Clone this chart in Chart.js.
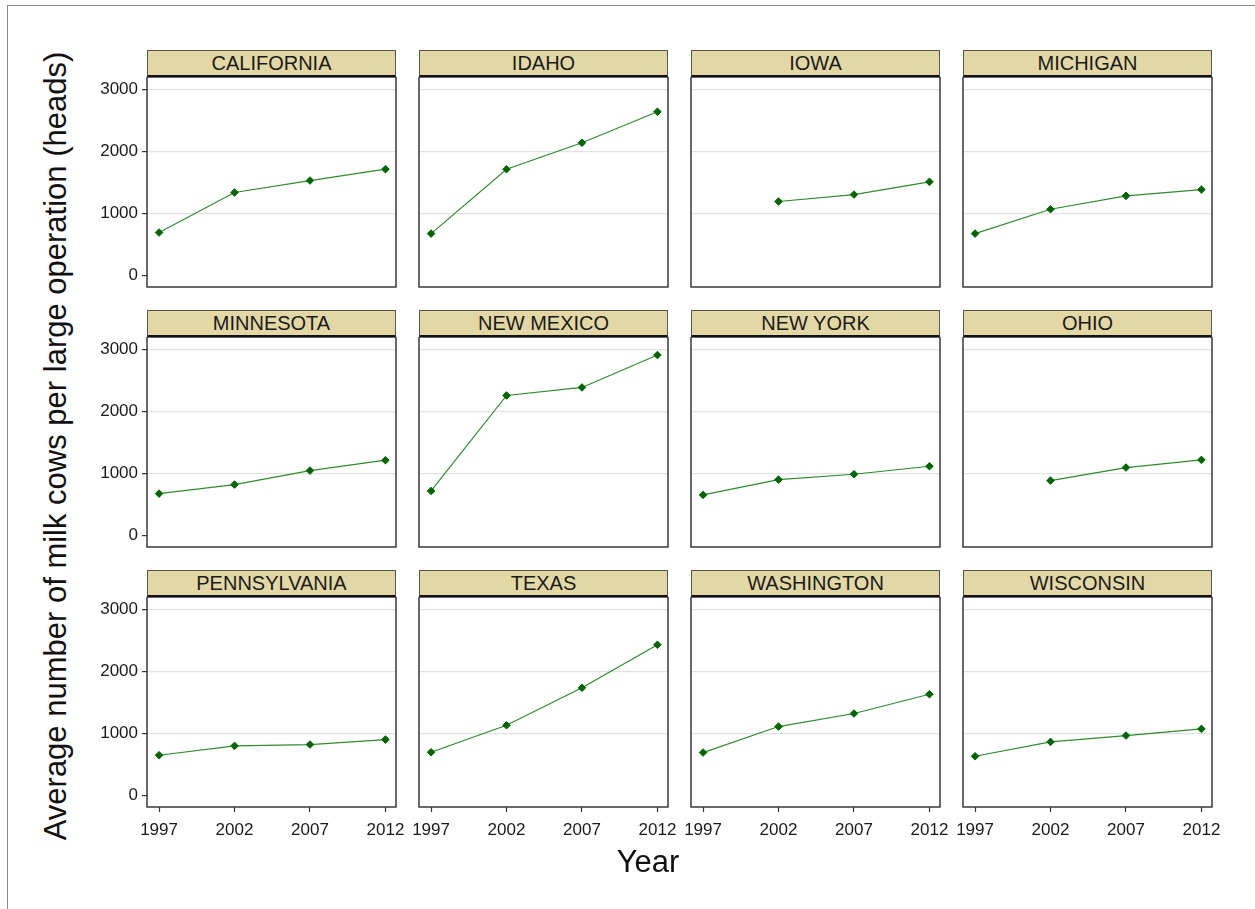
<!DOCTYPE html>
<html>
<head>
<meta charset="utf-8">
<script src="https://cdn.jsdelivr.net/npm/chart.js@4/dist/chart.umd.min.js"></script>
<style>
  html, body { margin:0; padding:0; background:#fff; }
  body { width:1255px; height:909px; position:relative; overflow:hidden; font-family:"Liberation Sans", Arial, sans-serif; }
  .frame { position:absolute; left:7px; top:5px; width:1260px; height:920px; border-left:1px solid #8a8a8a; border-top:1px solid #8a8a8a; }
  canvas { position:absolute; }
  .strip { position:absolute; box-sizing:border-box; background:#E3D8A5; border:1px solid #555; border-bottom:2px solid #111;
           text-align:center; font-size:20px; color:#1a1a1a; line-height:25px; }
  .xtitle { position:absolute; font-size:31px; color:#111; line-height:31px; white-space:nowrap; transform:translateX(-50%); }
  .ytitle { position:absolute; font-size:31px; color:#111; line-height:31px; white-space:nowrap; transform:translate(-50%,-50%) rotate(-90deg); }
</style>
</head>
<body>
<div class="frame"></div>
<div id="root"></div>
<div class="xtitle" style="left:648px; top:846px;">Year</div>
<div class="ytitle" style="left:55px; top:446px;">Average number of milk cows per large operation (heads)</div>
<script>
// ---- data ----
const years = [1997, 2002, 2007, 2012];
const xTicks = [1997, 2002, 2007, 2012];
const yTicks = [0, 1000, 2000, 3000];
const states = ["CALIFORNIA","IDAHO","IOWA","MICHIGAN","MINNESOTA","NEW MEXICO","NEW YORK","OHIO","PENNSYLVANIA","TEXAS","WASHINGTON","WISCONSIN"];
const california   = [694, 1339, 1532, 1715];
const idaho        = [677, 1715, 2140, 2640];
const iowa         = [null, 1194, 1306, 1511];
const michigan     = [677, 1070, 1285, 1387];
const minnesota    = [677, 823, 1048, 1215];
const newMexico    = [720, 2258, 2387, 2909];
const newYork      = [656, 903, 989, 1118];
const ohio         = [null, 887, 1097, 1220];
const pennsylvania = [651, 801, 823, 903];
const texas        = [699, 1134, 1737, 2430];
const washington   = [694, 1113, 1323, 1634];
const wisconsin    = [634, 866, 968, 1075];
const seriesList = [california, idaho, iowa, michigan, minnesota, newMexico, newYork, ohio, pennsylvania, texas, washington, wisconsin];

// ---- layout ----
const colLeft = [147, 419, 691, 963];
const rowTop = [77, 337, 597];
const plotW = 249, plotH = 210, stripH = 27;
const yAxisW = 60, rightPad = 25, xAxisH = 40;
const FONT = "'Liberation Sans', Arial, sans-serif";

const borderPlugin = {
  id: 'panelBorder',
  afterDraw(chart) {
    const a = chart.chartArea, c = chart.ctx;
    c.save();
    c.strokeStyle = '#3a3a3a';
    c.lineWidth = 1.5;
    c.strokeRect(a.left, a.top, a.right - a.left, a.bottom - a.top);
    c.restore();
  }
};

const root = document.getElementById('root');
states.forEach((name, i) => {
  const r = Math.floor(i / 4), col = i % 4;
  const isLeft = col === 0, isBottom = r === 2;
  const px = colLeft[col], py = rowTop[r];

  const strip = document.createElement('div');
  strip.className = 'strip';
  strip.style.left = px + 'px';
  strip.style.top = (py - stripH) + 'px';
  strip.style.width = plotW + 'px';
  strip.style.height = stripH + 'px';
  strip.textContent = name;
  root.appendChild(strip);

  const cv = document.createElement('canvas');
  cv.width = yAxisW + plotW + rightPad;
  cv.height = plotH + xAxisH;
  cv.style.left = (px - yAxisW) + 'px';
  cv.style.top = py + 'px';
  cv.style.width = cv.width + 'px';
  cv.style.height = cv.height + 'px';
  root.appendChild(cv);

  const vals = seriesList[i];
  const pts = [];
  years.forEach((yr, k) => { if (vals[k] !== null) pts.push({ x: yr, y: vals[k] }); });

  new Chart(cv, {
    type: 'line',
    data: { datasets: [{
      data: pts,
      borderColor: '#2f8a2f',
      borderWidth: 1.2,
      pointStyle: 'rectRot',
      pointRadius: 3.8,
      pointBackgroundColor: '#006400',
      pointBorderColor: '#006400',
      pointBorderWidth: 1,
      tension: 0,
      fill: false,
      clip: 8
    }]},
    options: {
      responsive: false,
      animation: false,
      devicePixelRatio: 1,
      layout: { autoPadding: false, padding: { left: 0, right: rightPad, top: 0, bottom: 0 } },
      plugins: { legend: { display: false }, tooltip: { enabled: false } },
      scales: {
        x: {
          type: 'linear', min: 1996.2, max: 2012.7,
          afterBuildTicks: s => { s.ticks = xTicks.map(v => ({ value: v })); },
          afterFit: s => { s.height = xAxisH; },
          ticks: { display: isBottom, font: { family: FONT, size: 17 }, color: '#1a1a1a', padding: 8, maxRotation: 0,
                   callback: v => String(v) },
          grid: { drawOnChartArea: false, drawTicks: isBottom, tickLength: 5, color: '#333', tickColor: '#333', tickWidth: 1.2 },
          border: { display: false }
        },
        y: {
          type: 'linear', min: -183, max: 3200,
          afterBuildTicks: s => { s.ticks = yTicks.map(v => ({ value: v })); },
          afterFit: s => { s.width = yAxisW; s.paddingTop = 0; s.paddingBottom = 0; },
          ticks: { display: isLeft, font: { family: FONT, size: 17 }, color: '#1a1a1a', padding: 4,
                   callback: v => String(v) },
          grid: { color: ctx => (ctx.tick && ctx.tick.value === 0) ? 'rgba(0,0,0,0)' : '#e2e2e2',
                  lineWidth: 1.2, drawTicks: isLeft, tickLength: 5, tickColor: '#333', tickWidth: 1.2 },
          border: { display: false }
        }
      }
    },
    plugins: [borderPlugin]
  });
});
</script>
</body>
</html>
